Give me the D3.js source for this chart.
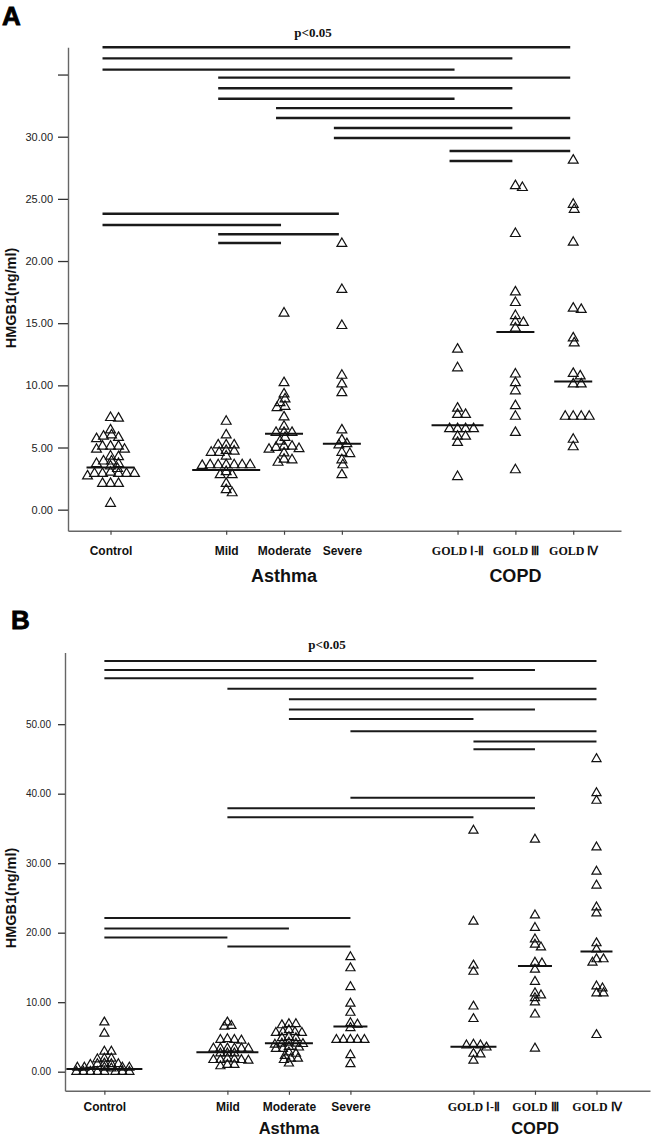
<!DOCTYPE html>
<html><head><meta charset="utf-8">
<script src="https://cdn.jsdelivr.net/npm/d3@7"></script>
<style>body{margin:0;background:#fff}</style>
</head><body><svg id="c" width="651" height="1137"></svg>
<script>
// ---------- DATA ----------
const categories = ["Control","Mild","Moderate","Severe","GOLD \u2160-\u2161","GOLD \u2162","GOLD \u2163"];
const slots = [0,2,3,4,6,7,8];
const groupNames = ["Asthma","COPD"];
const groupCenterIdx = [2,5];

// Panel A
const controlA = [7.4,7.35,6.4,6.0,5.9,5.8,5.7,5.1,5.1,5.1,4.85,4.85,4.3,4.25,3.9,3.9,3.7,3.7,3.5,3.3,3.0,2.9,2.9,2.9,2.9,2.9,2.7,2.1,2.1,2.1,0.5];
const mildA = [7.1,6.0,5.2,5.2,5.2,4.75,4.7,4.6,4.6,4.3,3.6,3.6,3.6,3.6,3.6,3.55,3.6,3.05,2.8,2.8,2.1,1.6,1.35];
const moderateA = [15.8,10.2,9.3,8.9,8.6,8.3,8.2,7.45,6.7,6.2,6.2,6.2,5.8,5.5,5.1,5.1,5.0,4.9,4.85,4.55,4.05,4.0,3.8];
const severeA = [21.4,17.7,14.8,10.8,10.1,9.4,6.4,5.6,5.3,5.2,4.6,4.5,4.0,3.6,2.8];
const gold12A = [12.9,11.4,8.15,7.65,7.65,6.5,6.5,6.5,6.5,5.9,5.9,5.4,2.65];
const gold3A = [26.05,25.9,22.2,17.5,16.65,15.6,15.1,15.05,14.6,10.9,10.2,9.55,8.35,7.5,6.2,3.2];
const gold4A = [28.1,24.55,24.15,21.5,16.2,16.1,13.8,13.4,10.95,10.75,10.1,10.1,7.5,7.5,7.5,7.5,5.65,5.05];
const mediansA = [3.4,3.2,6.1,5.3,6.8,14.3,10.3];
const sigPairsA = [[0,6],[0,5],[0,4],[1,6],[1,5],[1,4],[2,5],[2,6],[3,5],[3,6],[4,6],[4,5],[0,3],[0,2],[1,3],[1,2]];
const sigLevelsA = [37.2,36.3,35.4,34.75,33.9,33.05,32.3,31.5,30.7,29.9,28.85,28.05,23.8,22.9,22.15,21.45];
const yTicksA = [0,5,10,15,20,25,30,35];
const yTickLabelsA = ["0.00","5.00","10.00","15.00","20.00","25.00","30.00",""];

// Panel B
const controlB = [7.1,5.5,2.9,2.9,1.9,1.9,1.8,1.2,1.1,1.1,1.1,1.0,0.6,0.6,0.6,0.6,0.6,0.5,0.0,0.0,0.0,0.0,0.0,0.0,0.0,0.0];
const mildB = [7.1,6.6,6.5,4.7,4.6,4.6,4.5,3.35,3.35,3.35,3.35,3.35,3.35,2.65,2.65,2.65,1.9,1.8,1.7,1.7,1.7,1.6,1.0,1.0,0.8];
const moderateB = [6.85,6.85,6.7,6.0,5.7,5.7,5.6,5.6,5.0,4.85,4.85,4.2,4.05,4.05,4.0,3.9,3.6,3.5,3.3,3.3,2.8,2.6,2.3,1.9,1.9,1.7,1.2];
const severeB = [16.5,14.9,12.2,9.8,8.5,7.0,6.8,6.3,4.6,4.6,4.6,4.6,4.6,2.4,1.1];
const gold12B = [34.7,21.6,15.3,14.4,9.4,7.6,3.9,3.8,3.8,3.5,2.6,2.5,1.6];
const gold3B = [33.4,22.5,20.7,19.05,18.3,17.9,15.7,15.6,14.7,12.95,11.3,11.0,10.6,10.0,8.25,3.35];
const gold4B = [45.0,40.1,39.0,32.3,28.8,26.8,23.65,22.8,18.5,17.6,16.2,16.2,15.7,12.3,12.0,11.3,11.3,5.3];
const mediansB = [0.4,2.8,4.1,6.5,3.6,15.2,17.3];
const sigPairsB = [[0,6],[0,5],[0,4],[1,6],[2,6],[2,5],[2,4],[3,6],[4,6],[4,5],[3,5],[1,5],[1,4],[0,3],[0,2],[0,1],[1,3]];
const sigLevelsB = [59.1,57.8,56.6,55.1,53.6,52.1,50.75,49.0,47.5,46.4,39.4,37.9,36.6,22.1,20.6,19.3,18.0];
const yTicksB = [0,10,20,30,40,50];
const yTickLabelsB = ["0.00","10.00","20.00","30.00","40.00","50.00"];

// ---------- DRAW ----------
const svg = d3.select("#c");
const SANS = "'Liberation Sans', Arial, sans-serif";
const SERIF = "'Liberation Serif', 'Times New Roman', serif";

function swarm(vals, y, rx, ry) {
  const pts = vals.map(v => ({v, y: y(v)})).sort((a,b) => a.y - b.y);
  const placed = [];
  for (const p of pts) {
    for (let k = 0; k < 400; k++) {
      const off = k === 0 ? 0 : (k % 2 ? (k+1)/2 : -k/2);
      if (placed.every(q => ((q.dx-off)/rx)**2 + ((q.y-p.y)/ry)**2 >= 1)) { p.dx = off; break; }
    }
    placed.push(p);
  }
  return placed;
}

function drawPanel(c) {
  const g = svg.append("g");
  const x = d3.scaleLinear().domain(c.xDomain).range(c.xRange);
  const y = d3.scaleLinear().domain(c.yDomain).range(c.yRange);

  g.append("text").attr("x", c.letterPos[0]).attr("y", c.letterPos[1]).text(c.letter)
    .attr("font-family", SANS).attr("font-weight", 900).attr("font-size", 26).attr("fill", "#000")
    .attr("stroke", "#000").attr("stroke-width", 0.8);
  g.append("text").attr("x", c.pPos[0]).attr("y", c.pPos[1]).attr("text-anchor","middle").text("p<0.05")
    .attr("font-family", SERIF).attr("font-weight", "bold").attr("font-size", 13).attr("fill", "#111");

  g.append("g").attr("transform", `translate(${c.xRange[0]},0)`)
    .call(d3.axisLeft(y).tickValues(c.yTicks).tickFormat((d,i) => c.yLabels[i])
      .tickSize(c.yTickSize).tickSizeOuter(0).tickPadding(c.yTickPad))
    .call(a => {
      a.select(".domain").attr("stroke", "#666").attr("stroke-width", 1.4);
      a.selectAll(".tick line").attr("stroke", "#333").attr("stroke-width", 1.3);
      a.selectAll("text").attr("font-family", SANS).attr("font-size", c.yFont).attr("fill", "#222");
    });
  g.append("text").attr("transform", `translate(${c.titlePos[0]},${c.titlePos[1]}) rotate(-90)`)
    .attr("text-anchor", "middle").attr("dominant-baseline", "central").text("HMGB1(ng/ml)")
    .attr("font-family", SANS).attr("font-weight", "bold").attr("font-size", 14.5).attr("fill", "#111");

  g.append("g").attr("transform", `translate(0,${c.yRange[0]})`)
    .call(d3.axisBottom(x).tickValues(slots).tickFormat((d,i) => categories[i])
      .tickSize(4).tickSizeOuter(0).tickPadding(c.xPad))
    .call(a => {
      a.select(".domain").attr("stroke", "#666").attr("stroke-width", 1.4);
      a.selectAll(".tick line").attr("stroke", "#444").attr("stroke-width", 1.2);
      a.selectAll("text").attr("font-weight", "bold").attr("font-size", 12).attr("fill", "#111")
        .attr("font-family", (d,i) => i >= 4 ? SERIF : SANS);
    });
  groupNames.forEach((n, i) => {
    g.append("text").attr("x", x(slots[groupCenterIdx[i]])).attr("y", c.groupY).attr("text-anchor", "middle")
      .text(n).attr("font-family", SANS).attr("font-weight", "bold").attr("font-size", c.groupFont).attr("fill", "#111");
  });

  g.append("g").selectAll("line").data(c.sigPairs).join("line")
    .attr("x1", d => x(slots[d[0]]) + c.sigOff[0])
    .attr("x2", d => x(slots[d[1]]) + c.sigOff[1])
    .attr("y1", (d,i) => y(c.sigLevels[i])).attr("y2", (d,i) => y(c.sigLevels[i]))
    .attr("stroke", "#1a1a1a").attr("stroke-width", c.sigW);

  const sym = d3.symbol().type(d3.symbolTriangle).size(c.symSize)();
  c.series.forEach((vals, i) => {
    const cx = x(slots[i]);
    const pts = swarm(vals, y, c.rx, c.ry);
    g.append("g").selectAll("path").data(pts).join("path")
      .attr("d", sym).attr("transform", p => `translate(${cx + p.dx},${p.y})`)
      .attr("fill", "none").attr("stroke", "#111").attr("stroke-width", 1.2);
    const ym = y(c.medians[i]);
    const near = pts.filter(p => Math.abs(p.y - ym) < 5);
    const hw = Math.max(c.minHW, (d3.max(near, p => Math.abs(p.dx)) || 0) + 10);
    g.append("line").attr("x1", cx - hw).attr("x2", cx + hw).attr("y1", ym).attr("y2", ym)
      .attr("stroke", "#111").attr("stroke-width", 2);
  });
}

drawPanel({
  letter: "A", letterPos: [2, 25], pPos: [313, 37], titlePos: [11, 298],
  xDomain: [-0.735, 8.826], xRange: [68, 621],
  yDomain: [-1.7, 37.2], yRange: [530.8, 47.2],
  yTicks: yTicksA, yLabels: yTickLabelsA, yTickSize: 10, yTickPad: 5, yFont: 11,
  xPad: 12, groupY: 582, groupFont: 18,
  sigPairs: sigPairsA, sigLevels: sigLevelsA, sigOff: [-8, -3], sigW: 2.4,
  series: [controlA, mildA, moderateA, severeA, gold12A, gold3A, gold4A], medians: mediansA,
  symSize: 42, rx: 7.5, ry: 5, minHW: 19
});
drawPanel({
  letter: "B", letterPos: [11, 629], pPos: [327, 649], titlePos: [11, 898],
  xDomain: [-0.64, 8.87], xRange: [65, 650],
  yDomain: [-2.75, 60.3], yRange: [1090.8, 652.6],
  yTicks: yTicksB, yLabels: yTickLabelsB, yTickSize: 7, yTickPad: 7, yFont: 10,
  xPad: 8, groupY: 1134, groupFont: 16.5,
  sigPairs: sigPairsB, sigLevels: sigLevelsB, sigOff: [0, 0], sigW: 2,
  series: [controlB, mildB, moderateB, severeB, gold12B, gold3B, gold4B], medians: mediansB,
  symSize: 36, rx: 7, ry: 4, minHW: 16
});
</script></body></html>
